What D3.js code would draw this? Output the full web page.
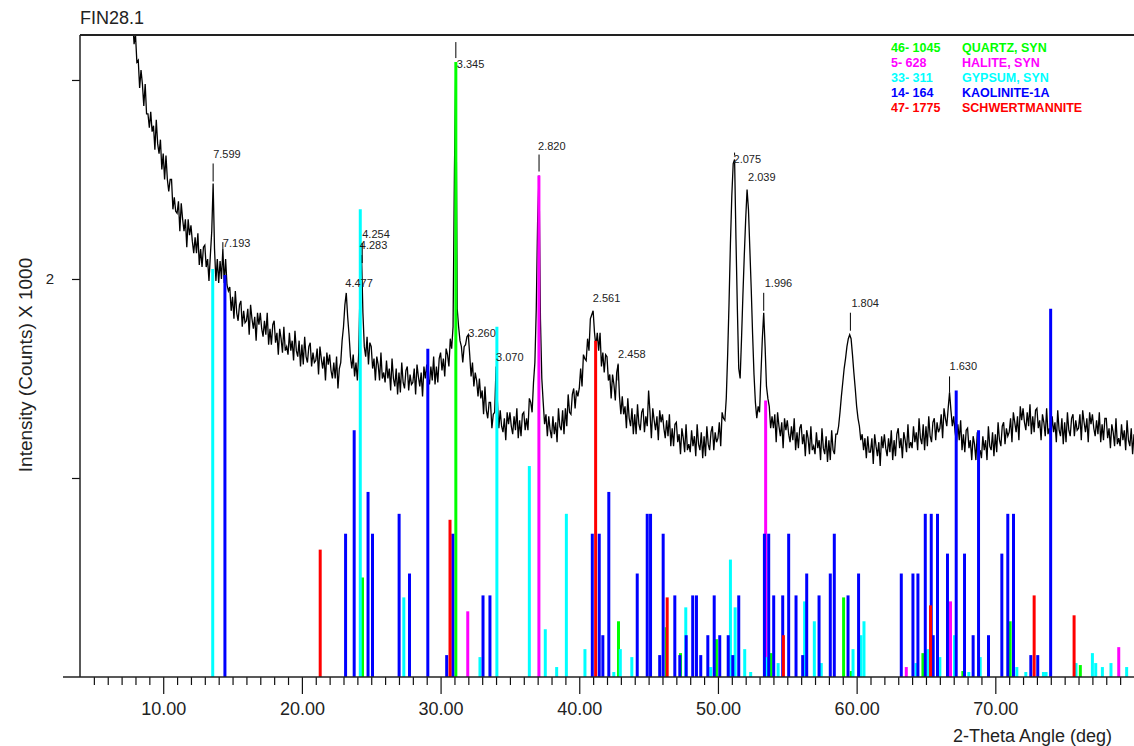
<!DOCTYPE html>
<html>
<head>
<meta charset="utf-8">
<script src="https://cdn.jsdelivr.net/npm/d3@7"></script>
<style>
  body { margin: 0; background: #fff; }
  svg { display: block; font-family: "Liberation Sans", Arial, sans-serif; }
</style>
</head>
<body>
<svg id="chart" width="1134" height="746"></svg>
<script>
// scan: each row = [start 2-theta, counts/1000 at start, start+0.1, ...]
const scanStep = 0.1;
const scanRows = [
  [7.8, 3.30, 3.18],
  [8.0, 3.23, 3.09, 3.10, 2.96, 3.05, 2.98, 2.87, 2.98, 2.83, 2.83],
  [9.0, 2.76, 2.84, 2.74, 2.77, 2.65, 2.80, 2.68, 2.63, 2.70, 2.55],
  [10.0, 2.63, 2.50, 2.62, 2.50, 2.44, 2.50, 2.50, 2.35, 2.41, 2.34],
  [11.0, 2.33, 2.39, 2.24, 2.38, 2.30, 2.24, 2.30, 2.16, 2.30, 2.22],
  [12.0, 2.27, 2.19, 2.13, 2.21, 2.13, 2.23, 2.07, 2.15, 2.06, 2.16],
  [13.0, 2.17, 2.06, 2.10, 1.99, 2.12, 2.24, 2.48, 2.15, 1.99, 2.10],
  [14.0, 1.98, 2.09, 2.00, 2.15, 1.98, 2.10, 1.97, 1.94, 1.96, 1.84],
  [15.0, 1.91, 1.80, 1.94, 1.83, 1.79, 1.87, 1.89, 1.76, 1.84, 1.78],
  [16.0, 1.79, 1.85, 1.72, 1.87, 1.80, 1.75, 1.81, 1.69, 1.83, 1.77],
  [17.0, 1.83, 1.75, 1.71, 1.79, 1.72, 1.83, 1.67, 1.75, 1.67, 1.77],
  [18.0, 1.79, 1.68, 1.73, 1.62, 1.75, 1.70, 1.63, 1.76, 1.64, 1.66],
  [19.0, 1.62, 1.73, 1.64, 1.69, 1.59, 1.74, 1.64, 1.61, 1.69, 1.56],
  [20.0, 1.67, 1.57, 1.71, 1.61, 1.58, 1.66, 1.68, 1.56, 1.63, 1.58],
  [21.0, 1.59, 1.65, 1.52, 1.66, 1.60, 1.55, 1.61, 1.49, 1.63, 1.57],
  [22.0, 1.62, 1.54, 1.50, 1.58, 1.50, 1.61, 1.45, 1.55, 1.58, 1.69],
  [23.0, 1.76, 1.87, 1.93, 1.81, 1.72, 1.61, 1.55, 1.62, 1.51, 1.58],
  [24.0, 1.49, 1.63, 1.98, 2.12, 1.83, 1.66, 1.61, 1.71, 1.57, 1.68],
  [25.0, 1.66, 1.55, 1.60, 1.49, 1.61, 1.57, 1.49, 1.63, 1.50, 1.53],
  [26.0, 1.48, 1.59, 1.50, 1.55, 1.44, 1.60, 1.50, 1.46, 1.55, 1.42],
  [27.0, 1.53, 1.43, 1.58, 1.48, 1.45, 1.54, 1.56, 1.44, 1.52, 1.47],
  [28.0, 1.48, 1.55, 1.42, 1.57, 1.51, 1.46, 1.53, 1.41, 1.56, 1.50],
  [29.0, 1.57, 1.50, 1.47, 1.56, 1.49, 1.61, 1.47, 1.56, 1.48, 1.60],
  [30.0, 1.63, 1.54, 1.60, 1.51, 1.65, 1.62, 1.56, 1.70, 1.65, 1.76],
  [31.0, 2.55, 3.09, 1.85, 1.76, 1.69, 1.66, 1.58, 1.66, 1.67, 1.71],
  [32.0, 1.72, 1.62, 1.51, 1.58, 1.46, 1.53, 1.49, 1.41, 1.50, 1.40],
  [33.0, 1.44, 1.32, 1.46, 1.34, 1.30, 1.38, 1.38, 1.25, 1.32, 1.33],
  [34.0, 1.56, 1.38, 1.25, 1.34, 1.26, 1.23, 1.30, 1.19, 1.33, 1.27],
  [35.0, 1.33, 1.26, 1.22, 1.31, 1.24, 1.35, 1.20, 1.29, 1.21, 1.32],
  [36.0, 1.33, 1.24, 1.30, 1.24, 1.40, 1.38, 1.33, 1.48, 1.58, 1.85],
  [37.0, 2.30, 2.52, 1.80, 1.50, 1.38, 1.27, 1.32, 1.21, 1.31, 1.24],
  [38.0, 1.20, 1.31, 1.22, 1.28, 1.18, 1.35, 1.26, 1.24, 1.34, 1.22],
  [39.0, 1.35, 1.26, 1.42, 1.33, 1.32, 1.42, 1.45, 1.35, 1.44, 1.41],
  [40.0, 1.45, 1.55, 1.46, 1.62, 1.60, 1.59, 1.70, 1.64, 1.80, 1.82],
  [41.0, 1.84, 1.73, 1.66, 1.73, 1.64, 1.73, 1.56, 1.63, 1.53, 1.62],
  [42.0, 1.61, 1.49, 1.52, 1.40, 1.52, 1.47, 1.39, 1.53, 1.57, 1.41],
  [43.0, 1.32, 1.41, 1.32, 1.36, 1.25, 1.40, 1.30, 1.26, 1.35, 1.22],
  [44.0, 1.32, 1.22, 1.37, 1.27, 1.24, 1.33, 1.35, 1.23, 1.31, 1.26],
  [45.0, 1.44, 1.33, 1.20, 1.35, 1.29, 1.24, 1.31, 1.19, 1.34, 1.28],
  [46.0, 1.32, 1.25, 1.20, 1.29, 1.21, 1.32, 1.16, 1.25, 1.16, 1.27],
  [47.0, 1.28, 1.18, 1.22, 1.12, 1.25, 1.20, 1.13, 1.27, 1.14, 1.17],
  [48.0, 1.13, 1.24, 1.16, 1.21, 1.11, 1.27, 1.17, 1.14, 1.23, 1.10],
  [49.0, 1.21, 1.11, 1.26, 1.17, 1.14, 1.23, 1.26, 1.14, 1.23, 1.18],
  [50.0, 1.20, 1.28, 1.16, 1.33, 1.30, 1.29, 1.40, 1.62, 1.88, 2.18],
  [51.0, 2.42, 2.58, 2.60, 2.20, 1.85, 1.55, 1.50, 1.70, 1.92, 2.12],
  [52.0, 2.30, 2.45, 2.35, 2.15, 1.95, 1.72, 1.52, 1.38, 1.30, 1.36],
  [53.0, 1.33, 1.52, 1.70, 1.83, 1.66, 1.46, 1.40, 1.36, 1.25, 1.31],
  [54.0, 1.25, 1.32, 1.18, 1.33, 1.26, 1.21, 1.28, 1.15, 1.30, 1.24],
  [55.0, 1.29, 1.22, 1.18, 1.26, 1.19, 1.30, 1.14, 1.23, 1.15, 1.25],
  [56.0, 1.27, 1.17, 1.22, 1.11, 1.24, 1.20, 1.12, 1.26, 1.14, 1.16],
  [57.0, 1.12, 1.23, 1.15, 1.19, 1.09, 1.25, 1.15, 1.12, 1.21, 1.08],
  [58.0, 1.19, 1.09, 1.24, 1.14, 1.12, 1.22, 1.22, 1.26, 1.33, 1.41],
  [59.0, 1.48, 1.55, 1.60, 1.66, 1.70, 1.72, 1.70, 1.62, 1.53, 1.45],
  [60.0, 1.36, 1.30, 1.26, 1.19, 1.22, 1.14, 1.20, 1.10, 1.21, 1.13],
  [61.0, 1.13, 1.20, 1.07, 1.22, 1.16, 1.11, 1.18, 1.06, 1.21, 1.15],
  [62.0, 1.22, 1.15, 1.11, 1.20, 1.13, 1.24, 1.09, 1.19, 1.11, 1.22],
  [63.0, 1.25, 1.15, 1.20, 1.10, 1.23, 1.19, 1.13, 1.27, 1.15, 1.18],
  [64.0, 1.15, 1.26, 1.18, 1.23, 1.14, 1.30, 1.20, 1.17, 1.27, 1.14],
  [65.0, 1.26, 1.16, 1.31, 1.21, 1.18, 1.28, 1.30, 1.19, 1.28, 1.23],
  [66.0, 1.25, 1.32, 1.20, 1.35, 1.30, 1.26, 1.35, 1.43, 1.34, 1.26],
  [67.0, 1.31, 1.23, 1.18, 1.27, 1.19, 1.29, 1.14, 1.22, 1.13, 1.24],
  [68.0, 1.25, 1.15, 1.19, 1.09, 1.21, 1.17, 1.09, 1.23, 1.11, 1.14],
  [69.0, 1.10, 1.21, 1.14, 1.19, 1.09, 1.26, 1.16, 1.14, 1.23, 1.11],
  [70.0, 1.22, 1.13, 1.28, 1.19, 1.16, 1.26, 1.28, 1.17, 1.25, 1.21],
  [71.0, 1.23, 1.30, 1.18, 1.33, 1.28, 1.23, 1.31, 1.19, 1.36, 1.29],
  [72.0, 1.35, 1.28, 1.24, 1.33, 1.26, 1.37, 1.22, 1.31, 1.23, 1.34],
  [73.0, 1.35, 1.25, 1.29, 1.19, 1.32, 1.28, 1.21, 1.35, 1.22, 1.25],
  [74.0, 1.20, 1.31, 1.23, 1.28, 1.18, 1.34, 1.24, 1.21, 1.30, 1.17],
  [75.0, 1.28, 1.18, 1.33, 1.24, 1.21, 1.30, 1.32, 1.21, 1.29, 1.24],
  [76.0, 1.25, 1.32, 1.19, 1.34, 1.28, 1.23, 1.30, 1.18, 1.33, 1.27],
  [77.0, 1.32, 1.25, 1.21, 1.29, 1.22, 1.33, 1.18, 1.27, 1.19, 1.30],
  [78.0, 1.30, 1.20, 1.25, 1.15, 1.27, 1.23, 1.16, 1.30, 1.17, 1.20],
  [79.0, 1.16, 1.27, 1.19, 1.24, 1.14, 1.29, 1.19, 1.16, 1.25, 1.12],
  [80.0, 1.22]
];

// reference sticks: [2-theta, counts/1000]
const quartz = [[24.37,0.50],[31.10,3.09],[42.83,0.28],[46.27,0.25],[47.30,0.12],[49.89,0.19],[53.83,0.12],[59.06,0.40],[59.62,0.03],[64.78,0.12],[67.66,0.03],[71.07,0.28],[76.13,0.06]];
const halite = [[31.96,0.33],[37.09,2.52],[53.44,1.39],[63.58,0.05],[66.77,0.38],[78.90,0.15]];
const gypsum = [[13.57,2.05],[24.21,2.35],[27.35,0.40],[32.84,0.10],[34.06,1.76],[36.40,1.06],[37.55,0.24],[38.37,0.05],[39.07,0.82],[40.41,0.14],[42.49,0.025],[42.96,0.14],[43.79,0.10],[47.68,0.35],[49.48,0.05],[50.90,0.59],[51.24,0.35],[51.93,0.14],[52.36,0.025],[53.49,0.10],[54.34,0.07],[56.25,0.38],[56.95,0.28],[57.45,0.07],[59.74,0.14],[60.31,0.21],[60.53,0.28],[64.28,0.07],[65.14,0.14],[66.00,0.10],[67.06,0.21],[68.09,0.025],[68.91,0.10],[71.55,0.05],[72.20,0.025],[73.47,0.025],[73.66,0.025],[75.82,0.07],[77.00,0.12],[77.24,0.07],[77.72,0.05],[78.34,0.07],[79.47,0.05]];
const kaolinite = [[14.45,2.02],[23.15,0.72],[23.77,1.24],[24.77,0.93],[25.09,0.72],[27.01,0.82],[27.76,0.52],[29.08,1.65],[30.44,0.11],[30.88,0.72],[33.06,0.41],[33.56,0.41],[40.94,0.72],[41.44,0.72],[41.70,0.21],[42.13,0.93],[44.18,0.52],[44.90,0.82],[45.14,0.82],[45.80,0.11],[46.05,0.72],[46.89,0.41],[47.25,0.11],[47.71,0.21],[48.18,0.41],[48.45,0.41],[48.76,0.11],[49.27,0.21],[49.73,0.41],[50.13,0.21],[50.74,0.21],[51.07,0.11],[51.50,0.41],[53.35,0.72],[53.66,0.72],[54.02,0.41],[54.67,0.41],[55.10,0.72],[55.63,0.41],[56.11,0.11],[56.40,0.52],[57.29,0.41],[58.10,0.52],[58.39,0.72],[59.38,0.41],[60.14,0.52],[63.22,0.52],[64.06,0.52],[64.42,0.52],[64.95,0.82],[65.38,0.82],[65.52,0.21],[65.83,0.82],[66.55,0.62],[67.18,1.44],[67.78,0.62],[68.40,0.21],[68.79,1.24],[69.51,0.21],[70.47,0.62],[70.90,0.82],[71.31,0.82],[72.56,0.11],[73.06,0.11],[73.99,1.85]];
const schwertmannite = [[21.32,0.64],[30.68,0.79],[41.18,1.69],[46.34,0.40],[54.72,0.21],[65.33,0.36],[72.80,0.41],[75.68,0.31]];

const phaseCodes = ['46- 1045', '5- 628', '33- 311', '14- 164', '47- 1775'];
const phaseNames = ['QUARTZ, SYN', 'HALITE, SYN', 'GYPSUM, SYN', 'KAOLINITE-1A', 'SCHWERTMANNITE'];
const phaseSticks = [quartz, halite, gypsum, kaolinite, schwertmannite];
const phaseColors = ['#00ff00', '#ff00ff', '#00ffff', '#0000ff', '#ff0000'];

// peak labels: [d-spacing, 2-theta, top counts/1000]
const peakLabels = [
  ['7.599', 13.6, 2.49], ['7.193', 14.3, 2.15], ['4.477', 23.2, 1.93],
  ['4.283', 24.25, 2.08], ['4.254', 24.35, 2.08], ['3.345', 31.1, 3.09],
  ['3.260', 32.0, 1.72], ['3.070', 34.0, 1.56], ['2.820', 37.1, 2.54],
  ['2.561', 40.9, 1.84], ['2.458', 42.8, 1.49], ['2.075', 51.2, 2.62],
  ['2.039', 52.1, 2.46], ['1.996', 53.3, 1.84], ['1.804', 59.55, 1.74],
  ['1.630', 66.7, 1.43]
];

const xTicksMajor = [10, 20, 30, 40, 50, 60, 70];
const yTicks = [1, 2, 3];

// label placement in px: tick from y+t0 to y+t1, text offset dx, dy (centre)
const labelPlace = {
  '7.599': [0, -18, 0, -27], '7.193': [0, -7, 0, -6], '4.477': [0, 0, -1, -10],
  '4.283': [0, 0, -1, -18], '4.254': [0, -20, 0, -29], '3.345': [-4, -20, 1, 2],
  '3.260': [0, 0, 0, -2], '3.070': [0, 0, 0, -10], '2.820': [0, -17, -1, -26],
  '2.561': [0, 0, 1, -13], '2.458': [0, -17, 0, -26], '2.075': [0, -3, -1, 3],
  '2.039': [0, 0, 1, -10], '1.996': [0, -18, 1, -28], '1.804': [0, -18, 1, -28],
  '1.630': [0, -16, 0, -26]
};

const svg = d3.select('#chart');
const plotL = 80, plotR = 1134, plotT = 35, plotB = 677;

const x = d3.scaleLinear().domain([4, 80]).range([plotL, plotR]);
const y = d3.scaleLinear().domain([0, 3.226]).range([plotB, plotT]);

const scan = scanRows.flatMap(r => r.slice(1).map((v, i) => [+(r[0] + i * scanStep).toFixed(2), v]));

svg.append('clipPath').attr('id', 'plot')
  .append('rect').attr('x', plotL).attr('y', plotT).attr('width', plotR - plotL).attr('height', plotB - plotT);

// pattern trace
svg.append('path')
  .datum(scan)
  .attr('clip-path', 'url(#plot)')
  .attr('fill', 'none')
  .attr('stroke', '#000')
  .attr('stroke-width', 1.3)
  .attr('d', d3.line().x(d => x(d[0])).y(d => y(d[1])));

// reference sticks
phaseSticks.forEach((sticks, k) => {
  svg.append('g').selectAll('line')
    .data(sticks)
    .enter()
    .append('line')
    .attr('x1', d => x(d[0])).attr('x2', d => x(d[0]))
    .attr('y1', y(0)).attr('y2', d => y(d[1]))
    .attr('stroke', phaseColors[k])
    .attr('stroke-width', 3);
});

// peak labels
const lab = svg.append('g');
peakLabels.forEach(([d, tt, pk]) => {
  const p = labelPlace[d];
  const px = x(tt), py = y(pk);
  if (p[1] !== p[0]) {
    lab.append('line')
      .attr('x1', px).attr('x2', px)
      .attr('y1', py + p[0]).attr('y2', py + p[1])
      .attr('stroke', '#000').attr('stroke-width', 1);
  }
  lab.append('text')
    .attr('x', px + p[2]).attr('y', py + p[3] + 4)
    .attr('font-size', 11).attr('fill', '#222')
    .text(d);
});

// axes
const minor = d3.range(5, 81).filter(v => v % 10 !== 0);
svg.append('g')
  .attr('transform', `translate(0,${plotB})`)
  .call(d3.axisBottom(x).tickValues(minor).tickSize(8).tickFormat(''))
  .call(g => g.select('.domain').remove());

svg.append('g')
  .attr('transform', `translate(0,${plotB})`)
  .call(d3.axisBottom(x).tickValues(xTicksMajor).tickSize(17).tickPadding(8).tickFormat(d3.format('.2f')))
  .call(g => g.select('.domain').remove())
  .call(g => g.selectAll('text').attr('font-size', 18).attr('fill', '#222').attr('font-family', null));

svg.append('g')
  .attr('transform', `translate(${plotL},0)`)
  .call(d3.axisLeft(y).tickValues(yTicks).tickSize(8).tickPadding(18).tickFormat(v => v === 2 ? '2' : ''))
  .call(g => g.select('.domain').remove())
  .call(g => g.selectAll('text').attr('font-size', 15).attr('fill', '#222').attr('font-family', null));

svg.selectAll('.tick line').attr('stroke', '#111').attr('stroke-width', 1.2);

// frame
svg.append('line').attr('x1', plotL).attr('x2', plotR).attr('y1', plotT).attr('y2', plotT)
  .attr('stroke', '#222').attr('stroke-width', 2);
svg.append('line').attr('x1', plotL).attr('x2', plotL).attr('y1', plotT).attr('y2', plotB)
  .attr('stroke', '#222').attr('stroke-width', 1.5);
svg.append('line').attr('x1', plotL - 17).attr('x2', plotR).attr('y1', plotB).attr('y2', plotB)
  .attr('stroke', '#222').attr('stroke-width', 1.5);

// titles
svg.append('text').attr('x', 80).attr('y', 24).attr('font-size', 18).attr('fill', '#222').text('FIN28.1');
svg.append('text')
  .attr('transform', 'translate(32,365) rotate(-90)')
  .attr('text-anchor', 'middle').attr('font-size', 19).attr('fill', '#222')
  .text('Intensity (Counts) X 1000');
svg.append('text').attr('x', 1112).attr('y', 742).attr('text-anchor', 'end')
  .attr('font-size', 18).attr('fill', '#222').text('2-Theta Angle (deg)');

// legend
const leg = svg.append('g').attr('font-size', 12.5).attr('font-weight', 'bold');
phaseCodes.forEach((c, i) => {
  const ly = 47.5 + i * 15 + 4.5;
  leg.append('text').attr('x', 891).attr('y', ly).attr('fill', phaseColors[i]).text(c);
  leg.append('text').attr('x', 962).attr('y', ly).attr('fill', phaseColors[i]).text(phaseNames[i]);
});
</script>
</body>
</html>
